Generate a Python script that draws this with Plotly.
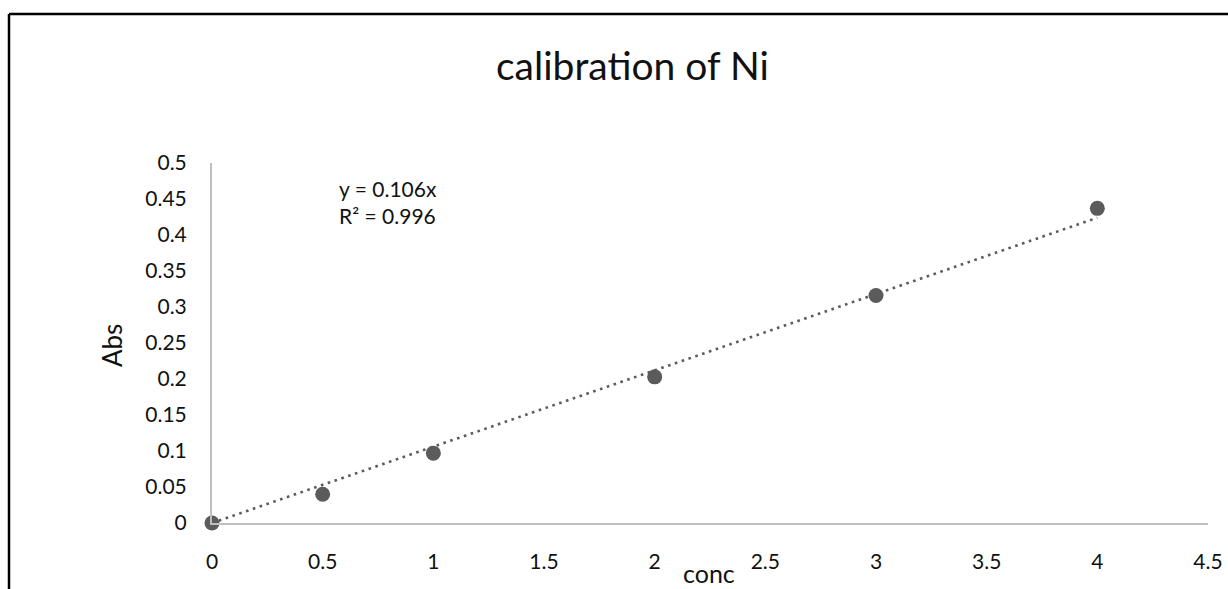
import plotly.graph_objects as go

conc = [0, 0.5, 1, 2, 3, 4]
absorbance = [0, 0.040, 0.097, 0.203, 0.316, 0.437]
slope = 0.106
r2 = 0.996
trend_x = [0, 4]
x_ticks = [0, 0.5, 1, 1.5, 2, 2.5, 3, 3.5, 4, 4.5]
y_ticks = [0, 0.05, 0.1, 0.15, 0.2, 0.25, 0.3, 0.35, 0.4, 0.45, 0.5]

W, H = 1228, 589
L, R, T, B = 212, 20, 163, 66
pw, ph = W - L - R, H - T - B

def px(x):
    return (x - L) / pw

def py(y):
    return (H - B - y) / ph

FONT = "Lato"
GREY = "#5b5b5b"
TXT = "#111111"

fig = go.Figure()
fig.add_trace(go.Scatter(
    x=trend_x, y=[slope * v for v in trend_x], mode="lines",
    line=dict(color=GREY, width=2.6, dash="2.6px,4.6px"),
    showlegend=False, hoverinfo="skip", cliponaxis=False))
fig.add_trace(go.Scatter(
    x=conc, y=absorbance, mode="markers",
    marker=dict(color=GREY, size=15),
    showlegend=False, cliponaxis=False))

fig.update_layout(
    width=W, height=H, autosize=False,
    margin=dict(l=L, r=R, t=T, b=B),
    paper_bgcolor="white", plot_bgcolor="white",
    font=dict(family=FONT, color=TXT, size=21),
    xaxis=dict(range=[0, 4.5], tickvals=x_ticks, showgrid=False, zeroline=False,
               showline=True, linecolor="#bfbfbf", linewidth=2, ticks="",
               automargin=False,
               ticklabelstandoff=19, tickfont=dict(size=21, color=TXT)),
    yaxis=dict(range=[0, 0.5], tickvals=y_ticks, showgrid=False, zeroline=False,
               showline=True, linecolor="#bfbfbf", linewidth=2, ticks="",
               automargin=False,
               ticklabelstandoff=19, tickfont=dict(size=21, color=TXT)),
    shapes=[
        dict(type="line", xref="paper", yref="paper",
             x0=px(9), x1=px(1240), y0=py(14), y1=py(14),
             line=dict(color="black", width=2.5)),
        dict(type="line", xref="paper", yref="paper",
             x0=px(9), x1=px(9), y0=py(14), y1=py(600),
             line=dict(color="black", width=2.5)),
    ],
    annotations=[
        dict(text="calibration of Ni", xref="paper", yref="paper",
             x=px(632), y=py(65), showarrow=False, xanchor="center", yanchor="middle",
             font=dict(size=39, family=FONT, color=TXT)),
        dict(text=f"y = {slope}x<br>R² = {r2}", xref="paper", yref="paper",
             x=px(337), y=py(202), showarrow=False, xanchor="left", yanchor="middle",
             align="left", font=dict(size=21, family=FONT, color=TXT)),
        dict(text="Abs", xref="paper", yref="paper", textangle=-90,
             x=px(112), y=py(346), showarrow=False, xanchor="center", yanchor="middle",
             font=dict(size=26, family=FONT, color=TXT)),
        dict(text="conc", xref="paper", yref="paper",
             x=px(709), y=py(573), showarrow=False, xanchor="center", yanchor="middle",
             font=dict(size=25, family=FONT, color=TXT)),
    ],
)

fig.write_html("out.html",
               config={"responsive": False, "displayModeBar": False},
               post_script="document.body.style.margin='0';document.body.style.overflow='hidden';")
